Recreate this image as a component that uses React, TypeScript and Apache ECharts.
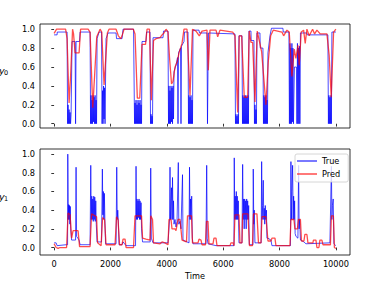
import React, { useEffect, useRef } from 'react';
import * as echarts from 'echarts';

const xTicks = [0, 2000, 4000, 6000, 8000, 10000];
const yTicks = [0, 0.2, 0.4, 0.6, 0.8, 1.0];
const seriesNames = ['True', 'Pred'];
const xLabel = 'Time';

const trueY0 = [
  [0, 0.94], [106, 0.94], [113, 0.97], [461, 0.97], [479, 0.0], [496, 0.2], [514, 0.0], [532, 0.15], [550, 0.0], [567, 0.12], [585, 0.0], [603, 0.1],
  [638, 0.87], [745, 0.87], [762, 0.0], [780, 0.87], [904, 0.87], [922, 0.97], [1277, 0.97],
  [1294, 0], [1312, 0.3], [1330, 0], [1347, 0.25], [1365, 0], [1383, 0.3], [1401, 0.02], [1418, 0.28], [1436, 0], [1454, 0.3], [1472, 0], [1489, 0.25], [1507, 0],
  [1525, 0.9], [1596, 0.97], [1684, 0.97], [1702, 0], [1720, 0.35], [1738, 0], [1755, 0.4], [1773, 0.05], [1791, 0.38], [1808, 0],
  [1844, 0.9], [1915, 0.96], [2199, 0.96], [2216, 0.9], [2411, 0.9], [2447, 1.0], [2819, 1.0],
  [2855, 0], [2872, 0.22], [2890, 0], [2908, 0.25], [2926, 0], [2943, 0.2], [2961, 0], [2979, 0.25], [2996, 0], [3014, 0.22], [3032, 0], [3050, 0.25], [3067, 0], [3085, 0.2], [3103, 0],
  [3120, 0.87], [3262, 0.87], [3280, 0.97], [3404, 0.97], [3422, 0], [3440, 0.1], [3457, 0], [3475, 0.08], [3493, 0],
  [3511, 0.91], [3865, 0.91], [3883, 0.98], [4042, 0.98],
  [4060, 0], [4078, 0.4], [4096, 0], [4113, 0.35], [4131, 0], [4149, 0.4], [4167, 0.02], [4184, 0.38], [4202, 0], [4220, 0.4], [4238, 0.05],
  [4255, 0.55], [4326, 0.62], [4379, 0.7], [4397, 0], [4415, 0.75], [4486, 0.8], [4503, 0], [4521, 0.82], [4610, 0.87], [4628, 0.97], [4752, 0.97],
  [4769, 0], [4787, 0.3], [4805, 0], [4823, 0.28], [4840, 0], [4858, 0.3], [4876, 0], [4893, 0.25], [4911, 0],
  [4929, 0.99], [5142, 0.99], [5159, 0.96], [5425, 0.96], [5443, 0], [5461, 0.55], [5479, 0.96], [6418, 0.95],
  [6436, 0], [6454, 0.1], [6472, 0], [6489, 0.08], [6507, 0], [6525, 0.1], [6543, 0],
  [6560, 0.93], [6667, 0.93], [6685, 0], [6702, 0.3], [6720, 0], [6738, 0.28], [6756, 0], [6773, 0.3], [6791, 0], [6809, 0.3], [6827, 0], [6844, 0.28], [6862, 0], [6880, 0.3], [6897, 0],
  [6915, 0.98], [6986, 0.98], [6993, 0.88], [7092, 0.88], [7110, 0], [7127, 0.2], [7145, 0], [7163, 0.15], [7181, 0],
  [7198, 0.96], [7305, 0.96], [7315, 0.8], [7411, 0.8], [7429, 0], [7447, 0.3], [7464, 0], [7482, 0.28], [7500, 0], [7518, 0.3], [7535, 0], [7553, 0.25], [7571, 0],
  [7589, 0.75], [7660, 0.93], [7713, 1.01], [8120, 1.01], [8131, 0.97], [8333, 0.97],
  [8351, 0], [8369, 0.85], [8386, 0], [8404, 0.8], [8422, 0], [8439, 0.85], [8457, 0.02], [8475, 0.8], [8493, 0],
  [8528, 0.6], [8599, 0.6], [8617, 0], [8635, 0.85], [8652, 0], [8670, 0.8], [8688, 0], [8706, 0.82], [8723, 0],
  [8741, 0.96], [8971, 0.96], [8982, 0.94], [9716, 0.94], [9734, 0], [9752, 0.3], [9770, 0], [9787, 0.28], [9805, 0], [9823, 0.3], [9840, 0],
  [9858, 0.97], [9999, 0.97],
];

const predY0 = [
  [0, 0.955], [89, 1.0], [408, 1.0], [461, 0.9], [532, 0.22], [585, 0.5], [656, 1.0], [691, 0.95], [745, 0.75], [887, 0.75], [940, 1.0],
  [1206, 1.0], [1277, 0.97], [1372, 0.17], [1436, 0.5], [1514, 0.92], [1631, 1.0], [1691, 0.97], [1773, 0.41], [1890, 0.96], [1950, 1.0],
  [2199, 1.0], [2280, 0.93], [2365, 0.9], [2411, 0.93], [2482, 1.0], [2812, 1.0], [2872, 0.95], [2954, 0.27], [3039, 0.27], [3120, 0.84],
  [3245, 0.84], [3298, 1.0], [3386, 1.0], [3450, 0.25], [3528, 0.88], [3617, 0.9], [3759, 0.91], [3830, 0.94], [3901, 0.96], [3972, 1.0],
  [4042, 0.97], [4096, 0.7], [4167, 0.42], [4220, 0.45], [4291, 0.6], [4362, 0.65], [4433, 0.75], [4539, 0.85], [4610, 1.0], [4716, 1.0],
  [4823, 0.3], [4911, 1.0], [5035, 0.98], [5152, 0.93], [5248, 0.98], [5425, 0.99], [5472, 0.565], [5532, 0.99], [5745, 0.99], [5805, 0.92],
  [5886, 0.99], [6337, 0.97], [6418, 0.93], [6514, 0.12], [6571, 0.93], [6656, 0.93], [6748, 0.28], [6869, 0.28], [6925, 0.98], [6986, 0.86],
  [7046, 0.86], [7127, 0.23], [7209, 0.98], [7280, 0.88], [7365, 0.76], [7518, 0.2], [7599, 0.65], [7684, 0.93], [7776, 0.99], [8085, 0.97],
  [8145, 0.93], [8262, 0.99], [8344, 0.97], [8439, 0.5], [8521, 0.79], [8581, 0.69], [8652, 0.83], [8698, 0.62], [8769, 0.97], [8854, 0.99],
  [8911, 0.85], [8971, 1.0], [9053, 0.93], [9173, 1.0], [9244, 0.95], [9326, 0.99], [9443, 0.95], [9681, 0.95], [9762, 0.72], [9833, 0.28],
  [9918, 0.97], [9999, 1.0],
];

const trueY1 = [
  [0, 0.05], [71, 0.05], [106, 0.02], [426, 0.03], [479, 0.03], [486, 1.0], [504, 0.3], [518, 0.46], [532, 0.3], [546, 0.45], [560, 0.25], [574, 0.44], [589, 0.2],
  [621, 0.08], [762, 0.08], [780, 0.86], [798, 0.12], [887, 0.08], [922, 0.03], [1277, 0.03],
  [1301, 0.88], [1319, 0.3], [1337, 0.55], [1355, 0.3], [1372, 0.52], [1390, 0.28], [1408, 0.55], [1426, 0.3], [1443, 0.54], [1461, 0.28], [1479, 0.5], [1497, 0.25],
  [1525, 0.06], [1684, 0.06], [1713, 0.84], [1731, 0.35], [1749, 0.6], [1766, 0.3], [1784, 0.58], [1802, 0.3], [1826, 0.04],
  [2199, 0.04], [2223, 0.86], [2241, 0.3], [2259, 0.4], [2277, 0.3], [2305, 0.03], [2411, 0.03], [2447, 0.06], [2553, 0.02], [2890, 0.02],
  [2908, 0.87], [2926, 0.3], [2943, 0.52], [2961, 0.3], [2979, 0.5], [2996, 0.32], [3014, 0.52], [3032, 0.3], [3050, 0.5], [3067, 0.3], [3085, 0.48], [3103, 0.2],
  [3138, 0.06], [3411, 0.06], [3429, 0.85], [3450, 0.1], [3511, 0.05], [4042, 0.05],
  [4096, 0.3], [4113, 0.86], [4131, 0.3], [4149, 0.5], [4167, 0.64], [4184, 0.3], [4202, 0.75], [4220, 0.3], [4238, 0.5], [4255, 0.25], [4291, 0.3], [4326, 0.22], [4362, 0.28],
  [4408, 0.91], [4425, 0.25], [4468, 0.28], [4503, 0.2], [4557, 0.78], [4574, 0.08], [4787, 0.05],
  [4805, 0.86], [4823, 0.3], [4840, 0.52], [4858, 0.3], [4883, 0.55], [4904, 0.1], [4929, 0.04], [5390, 0.04], [5415, 0.88], [5433, 0.1], [5461, 0.04],
  [5745, 0.02], [6383, 0.02], [6393, 0.96], [6411, 0.3], [6429, 0.55], [6447, 0.3], [6465, 0.6], [6482, 0.3], [6500, 0.55], [6518, 0.3], [6536, 0.5], [6560, 0.05],
  [6667, 0.05], [6691, 0.89], [6709, 0.3], [6727, 0.52], [6745, 0.2], [6763, 0.52], [6780, 0.3], [6798, 0.5], [6816, 0.2], [6834, 0.52], [6851, 0.3], [6869, 0.5], [6887, 0.3], [6905, 0.45], [6926, 0.03],
  [7057, 0.03], [7067, 0.84], [7085, 0.25], [7103, 0.4], [7127, 0.05], [7347, 0.05],
  [7365, 0.92], [7383, 0.3], [7400, 0.45], [7422, 0.72], [7440, 0.3], [7457, 0.42], [7475, 0.25], [7493, 0.45], [7511, 0.3], [7535, 0.4], [7553, 0.1], [7589, 0.1], [7695, 0.08], [7730, 0.02],
  [8386, 0.02], [8404, 0.92], [8422, 0.3], [8439, 0.6], [8464, 0.88], [8482, 0.3], [8500, 0.55], [8517, 0.3], [8535, 0.5], [8553, 0.15], [8581, 0.12], [8652, 0.1],
  [8677, 0.88], [8695, 0.2], [8713, 0.3], [8741, 0.08], [8865, 0.06], [8936, 0.04], [9787, 0.05],
  [9840, 0.87], [9858, 0.3], [9876, 0.45], [9904, 0.52], [9929, 0.04], [9999, 0.02],
];

const predY1 = [
  [0, 0.04], [71, 0.0], [142, -0.01], [213, 0.0], [443, 0.0], [496, 0.37], [567, 0.35], [621, 0.1], [674, 0.18], [851, 0.18], [904, 0.01],
  [1277, 0.01], [1330, 0.36], [1507, 0.33], [1543, 0.05], [1667, 0.02], [1720, 0.32], [1791, 0.3], [1844, 0.03], [2163, 0.03], [2216, 0.33],
  [2269, 0.3], [2323, 0.03], [2411, 0.03], [2447, 0.09], [2518, 0.09], [2553, 0.0], [2819, 0.0], [2872, 0.34], [3103, 0.34], [3138, 0.1],
  [3262, 0.09], [3404, 0.08], [3432, 0.34], [3493, 0.3], [3528, 0.05], [3759, 0.04], [3830, 0.06], [3936, 0.05], [4042, 0.03], [4078, 0.3],
  [4149, 0.3], [4184, 0.2], [4291, 0.2], [4326, 0.18], [4397, 0.3], [4468, 0.3], [4539, 0.08], [4698, 0.06], [4734, 0.34], [4876, 0.34],
  [4911, 0.05], [5106, 0.05], [5142, 0.09], [5213, 0.08], [5248, 0.03], [5372, 0.03], [5408, 0.28], [5461, 0.28], [5496, 0.04], [5638, 0.04],
  [5674, 0.1], [5745, 0.1], [5780, 0.02], [6241, 0.02], [6276, 0.05], [6347, 0.05], [6383, 0.02], [6418, 0.35], [6560, 0.35], [6596, 0.05],
  [6667, 0.05], [6691, 0.36], [6880, 0.36], [6933, 0.02], [7039, 0.02], [7074, 0.36], [7198, 0.36], [7252, 0.05], [7340, 0.05], [7376, 0.33],
  [7518, 0.33], [7589, 0.07], [7695, 0.07], [7730, 0.1], [7837, 0.1], [7872, 0.02], [8369, 0.02], [8404, 0.3], [8510, 0.3], [8546, 0.2],
  [8635, 0.2], [8670, 0.3], [8741, 0.3], [8777, 0.07], [8865, 0.07], [8900, 0.14], [8971, 0.14], [9007, 0.05], [9184, 0.05], [9202, 0.08],
  [9291, 0.08], [9326, 0.0], [9397, 0.0], [9432, 0.08], [9503, 0.08], [9539, 0.03], [9805, 0.03], [9840, 0.34], [9911, 0.34], [9946, 0.0],
  [9999, -0.01],
];

const BLUE = 'rgba(0,0,255,0.7)';
const RED = 'rgba(255,0,0,0.7)';
const FONT = 'DejaVu Sans';
const labelFont = { fontFamily: FONT, fontSize: 8.2, color: '#000' };
const tickLine = { color: '#000', width: 0.8 };

export default function App() {
  const ref = useRef<HTMLDivElement>(null);
  useEffect(() => {
    const chart = echarts.init(ref.current!, null, { renderer: 'svg' });
    const grids = [
      { left: 40, top: 24, width: 310, height: 104 },
      { left: 40, top: 149, width: 310, height: 106 },
    ];
    const yRanges = [
      [-0.045, 1.055],
      [-0.08, 1.055],
    ];
    chart.setOption({
      animation: false,
      backgroundColor: '#fff',
      grid: grids.map((g) => ({ ...g, show: true, borderColor: '#000', borderWidth: 0.8, backgroundColor: 'transparent' })),
      xAxis: [0, 1].map((i) => ({
        gridIndex: i,
        type: 'value',
        min: -500,
        max: 10500,
        axisLine: { show: false },
        splitLine: { show: false },
        axisTick: { show: true, customValues: xTicks, length: 2.8, lineStyle: tickLine },
        axisLabel: { show: i === 1, customValues: xTicks, margin: 5, ...labelFont, formatter: (v: number) => String(v) },
        name: i === 1 ? xLabel : '',
        nameLocation: 'middle',
        nameGap: 17,
        nameTextStyle: labelFont,
      })),
      yAxis: [0, 1].map((i) => ({
        gridIndex: i,
        type: 'value',
        min: yRanges[i][0],
        max: yRanges[i][1],
        axisLine: { show: false },
        splitLine: { show: false },
        axisTick: { show: true, customValues: yTicks, length: 2.8, lineStyle: tickLine },
        axisLabel: { customValues: yTicks, margin: 5, ...labelFont, formatter: (v: number) => v.toFixed(1) },
      })),
      legend: {
        data: seriesNames.map((n) => ({ name: n, icon: 'rect' })),
        orient: 'vertical',
        left: 295,
        top: 154,
        padding: [2, 8, 3, 2],
        itemGap: 3,
        itemWidth: 20,
        itemHeight: 1.5,
        textStyle: { fontFamily: FONT, fontSize: 8.2, color: '#000', lineHeight: 10 },
        backgroundColor: 'rgba(255,255,255,0.8)',
        borderColor: '#cccccc',
        borderWidth: 0.8,
        borderRadius: 2,
      },
      graphic: [
        { type: 'text', x: -1, y: 70, style: { text: 'y', fontFamily: FONT, fontStyle: 'italic', fontSize: 9.5, fill: '#000', verticalAlign: 'middle' } },
        { type: 'text', x: 4, y: 72.5, style: { text: '0', fontFamily: FONT, fontSize: 6.5, fill: '#000', verticalAlign: 'middle' } },
        { type: 'text', x: -1, y: 196.5, style: { text: 'y', fontFamily: FONT, fontStyle: 'italic', fontSize: 9.5, fill: '#000', verticalAlign: 'middle' } },
        { type: 'text', x: 4, y: 199, style: { text: '1', fontFamily: FONT, fontSize: 6.5, fill: '#000', verticalAlign: 'middle' } },
      ],
      series: [
        { name: seriesNames[0], type: 'line', xAxisIndex: 0, yAxisIndex: 0, data: trueY0, symbol: 'none', color: BLUE, lineStyle: { color: BLUE, width: 1 } },
        { name: seriesNames[1], type: 'line', xAxisIndex: 0, yAxisIndex: 0, data: predY0, symbol: 'none', color: RED, lineStyle: { color: RED, width: 1.3 } },
        { name: seriesNames[0], type: 'line', xAxisIndex: 1, yAxisIndex: 1, data: trueY1, symbol: 'none', color: BLUE, lineStyle: { color: BLUE, width: 1 } },
        { name: seriesNames[1], type: 'line', xAxisIndex: 1, yAxisIndex: 1, data: predY1, symbol: 'none', color: RED, lineStyle: { color: RED, width: 1.3 } },
      ],
    });
    return () => chart.dispose();
  }, []);
  return <div ref={ref} style={{ position: 'absolute', left: 0, top: 0, width: 383, height: 281 }} />;
}
